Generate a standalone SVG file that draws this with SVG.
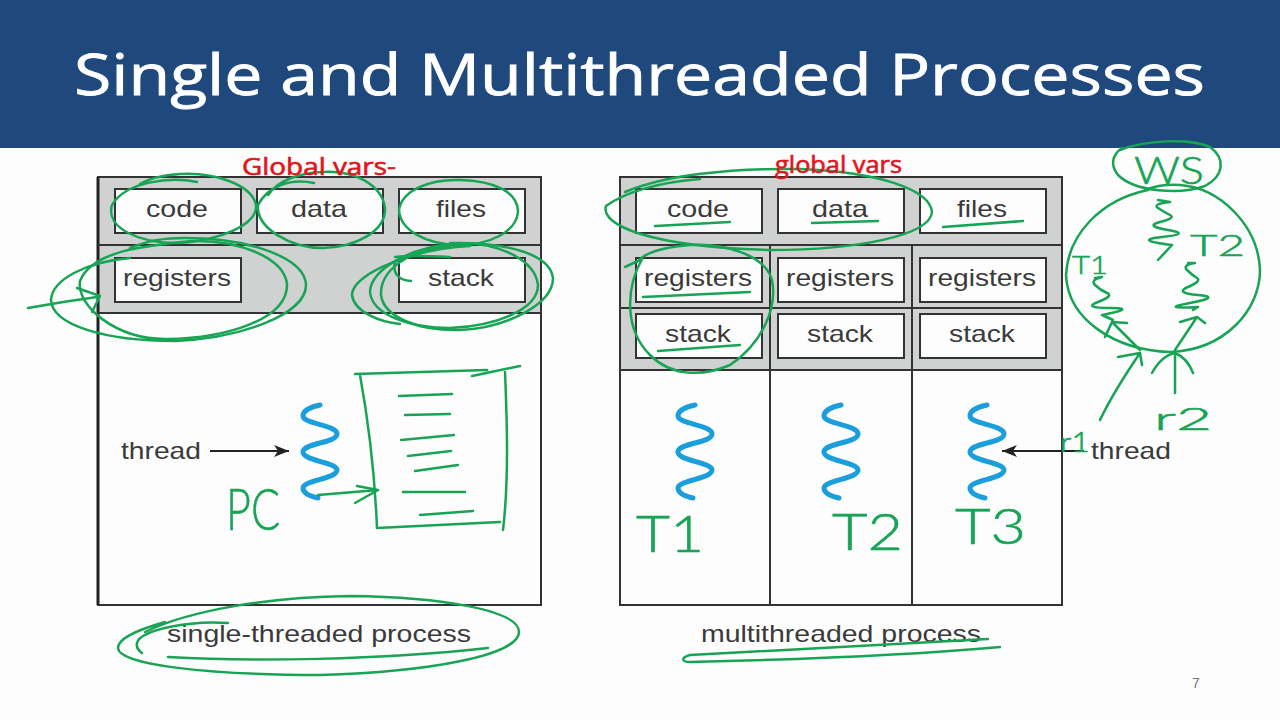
<svg xmlns="http://www.w3.org/2000/svg" width="1280" height="720" viewBox="0 0 1280 720">
<style>
.t{font-family:"Liberation Sans",Arial,sans-serif;font-size:24px;fill:#3a3a3a;text-anchor:start}
.box{fill:#fdfdfd;stroke:#333;stroke-width:2}
.band{fill:#d0d1d1}
.ln{stroke:#333;stroke-width:2;fill:none}
.ink{fill:none;stroke:#17a455;stroke-width:2.5;stroke-linecap:round;stroke-linejoin:round}
.hw{font-family:Lato,"Open Sans",sans-serif;font-weight:300;fill:#17a455;stroke:#17a455;stroke-width:.6}
.red{font-family:"Open Sans",sans-serif;font-size:23px;fill:#e2141c;stroke:#e2141c;stroke-width:.6}
.blue{fill:none;stroke:#1a9fdc;stroke-width:5;stroke-linecap:round}
.conn{stroke:#222;stroke-width:2;fill:none;marker-end:url(#ah)}
</style>
<defs>
<marker id="ah" markerWidth="16" markerHeight="12" refX="15" refY="6" orient="auto" markerUnits="userSpaceOnUse"><path d="M0,0 L15,6 L0,12 L4,6 Z" fill="#222"/></marker>
<path id="sq" class="blue" d="M18,0 C8,2 1,6 1,11 C1,19 35,20 35,29 C35,38 1,38 1,47 C1,56 35,57 35,65 C35,74 1,75 1,83 C1,88 7,91 16,93"/>
</defs>
<rect width="1280" height="720" fill="#fdfdfd"/>
<g id="title-bar">
<rect width="1280" height="148" fill="#1f497d"/>
<text x="74" y="95" font-family="'Open Sans',sans-serif" font-size="57" fill="#fff" stroke="#fff" stroke-width=".8" textLength="1131" lengthAdjust="spacingAndGlyphs">Single and Multithreaded Processes</text>
</g>

<g id="single-process">
<rect class="band" x="98" y="177" width="443" height="136"/>
<rect x="98" y="177" width="443" height="428" fill="none" stroke="#333" stroke-width="2"/>
<path d="M98 177V605" stroke="#222" stroke-width="3"/>
<path class="ln" d="M98 245H541M98 313H541"/>
</g>
<g id="s-code"><rect class="box" x="115" y="189" width="126" height="44"/><text class="t" x="146" y="217" textLength="62" lengthAdjust="spacingAndGlyphs">code</text></g>
<g id="s-data"><rect class="box" x="257" y="189" width="126" height="44"/><text class="t" x="291" y="217" textLength="56" lengthAdjust="spacingAndGlyphs">data</text></g>
<g id="s-files"><rect class="box" x="399" y="189" width="126" height="44"/><text class="t" x="436" y="217" textLength="50" lengthAdjust="spacingAndGlyphs">files</text></g>
<g id="s-registers"><rect class="box" x="115" y="258" width="126" height="44"/><text class="t" x="123" y="286" textLength="108" lengthAdjust="spacingAndGlyphs">registers</text></g>
<g id="s-stack"><rect class="box" x="399" y="258" width="126" height="44"/><text class="t" x="428" y="286" textLength="66" lengthAdjust="spacingAndGlyphs">stack</text></g>
<g id="s-thread"><use href="#sq" x="302" y="405"/></g>
<g id="s-thread-label"><text class="t" x="121" y="459" textLength="80" lengthAdjust="spacingAndGlyphs">thread</text></g>
<g id="s-caption"><text class="t" x="167" y="642" textLength="304" lengthAdjust="spacingAndGlyphs">single-threaded process</text></g>

<g id="multi-process">
<rect class="band" x="620" y="177" width="442" height="193"/>
<rect x="620" y="177" width="442" height="428" fill="none" stroke="#333" stroke-width="2"/>
<path class="ln" d="M620 245H1062M620 308H1062M620 370H1062M770 245V605M912 245V605"/>
</g>
<g id="m-code"><rect class="box" x="636" y="189" width="126" height="44"/><text class="t" x="667" y="217" textLength="62" lengthAdjust="spacingAndGlyphs">code</text></g>
<g id="m-data"><rect class="box" x="778" y="189" width="126" height="44"/><text class="t" x="812" y="217" textLength="56" lengthAdjust="spacingAndGlyphs">data</text></g>
<g id="m-files"><rect class="box" x="920" y="189" width="126" height="44"/><text class="t" x="957" y="217" textLength="50" lengthAdjust="spacingAndGlyphs">files</text></g>
<g id="m-reg1"><rect class="box" x="636" y="258" width="126" height="44"/><text class="t" x="644" y="286" textLength="108" lengthAdjust="spacingAndGlyphs">registers</text></g>
<g id="m-reg2"><rect class="box" x="778" y="258" width="126" height="44"/><text class="t" x="786" y="286" textLength="108" lengthAdjust="spacingAndGlyphs">registers</text></g>
<g id="m-reg3"><rect class="box" x="920" y="258" width="126" height="44"/><text class="t" x="928" y="286" textLength="108" lengthAdjust="spacingAndGlyphs">registers</text></g>
<g id="m-stack1"><rect class="box" x="636" y="314" width="126" height="44"/><text class="t" x="665" y="342" textLength="66" lengthAdjust="spacingAndGlyphs">stack</text></g>
<g id="m-stack2"><rect class="box" x="778" y="314" width="126" height="44"/><text class="t" x="807" y="342" textLength="66" lengthAdjust="spacingAndGlyphs">stack</text></g>
<g id="m-stack3"><rect class="box" x="920" y="314" width="126" height="44"/><text class="t" x="949" y="342" textLength="66" lengthAdjust="spacingAndGlyphs">stack</text></g>
<g id="m-thread1"><use href="#sq" x="677" y="405"/></g>
<g id="m-thread2"><use href="#sq" x="823" y="405"/></g>
<g id="m-thread3"><use href="#sq" x="969" y="405"/></g>
<g id="m-thread-label"><text class="t" x="1091" y="459" textLength="80" lengthAdjust="spacingAndGlyphs">thread</text></g>
<g id="m-caption"><text class="t" x="701" y="642" textLength="280" lengthAdjust="spacingAndGlyphs">multithreaded process</text></g>
<g id="page-number"><text x="1192" y="688" font-family="'Liberation Sans',sans-serif" font-size="14" fill="#777">7</text></g>

<g id="connectors">
<path class="conn" d="M210 451H289"/>
<path class="conn" d="M1084 451H1002"/>
</g>

<g id="ink-left">
<path class="ink" d="M197 182C170 176 125 182 112 205C105 228 140 244 180 243C220 240 258 225 256 205C252 185 215 172 180 174C165 175 150 178 140 184"/>
<path class="ink" d="M314 183C290 178 268 186 258 205C256 228 290 248 323 248C355 247 386 232 385 208C382 185 355 170 322 172C300 173 278 180 268 195"/>
<path class="ink" d="M399 210C402 190 430 179 460 180C495 181 518 192 518 212C516 232 490 245 458 245C425 244 400 230 399 210Z"/>
<path class="ink" d="M192 241C150 245 92 250 80 281C76 305 115 340 168 339C225 338 288 320 287 284C284 258 240 240 192 241"/>
<path class="ink" d="M130 258C85 262 52 280 51 300C52 325 105 341 175 341C240 338 306 315 306 285C305 258 250 238 185 238C165 238 150 240 130 248"/>
<path class="ink" d="M28 308C50 304 75 300 97 297M77 288L100 296L92 312"/>
<path class="ink" d="M470 246C420 248 352 272 352 295C354 312 380 322 400 324"/>
<path class="ink" d="M460 243C410 246 370 270 370 292C372 315 410 328 450 328C495 326 538 310 538 285C535 260 500 243 460 243"/>
<path class="ink" d="M450 246C405 250 380 272 381 295C384 318 420 331 460 330C505 328 553 305 553 278C550 255 510 242 450 243"/>
<path class="ink" d="M395 257C415 255 430 256 450 257M395 262C393 270 395 280 411 281"/>
</g>
<g id="ink-program">
<path class="ink" d="M355 374L487 370M472 376L520 366M360 375C370 430 375 480 377 528L500 522M505 372C507 420 509 480 503 530"/>
<path class="ink" d="M399 396L452 394M405 415L450 414M401 440L454 435M408 456L451 451M415 471L458 465M403 492L465 492M420 515L473 511"/>
<path class="ink" d="M318 495L378 490M357 486L378 490L355 503"/>
</g>
<g id="ink-right">
<path class="ink" d="M700 179C660 182 625 192 606 206C600 225 650 247 770 250C860 250 930 235 932 212C930 190 880 172 800 169C730 168 665 175 625 192"/>
<path class="ink" d="M625 267L642 259C625 290 625 330 650 355C670 375 700 378 730 365C760 345 778 310 772 280C765 255 725 243 690 245C665 247 645 252 637 262"/>
<path class="ink" d="M655 226L730 222M812 223L878 221M943 227L1023 221M643 297L750 292M658 351L740 345"/>
</g>
<g id="ink-captions">
<path class="ink" d="M145 632C190 610 270 597 350 596C440 597 519 610 519 632C519 655 430 672 320 675C210 675 118 665 118 648C118 640 130 632 165 622"/>
<path class="ink" d="M228 623C190 620 140 630 137 643C136 648 139 651 142 653M168 657C250 662 380 660 488 648"/>
<path class="ink" d="M988 639L690 655C680 658 682 662 690 662C780 660 900 656 1000 647"/>
</g>
<g id="ink-server">
<path class="ink" d="M1120 150C1145 140 1190 138 1210 147C1225 158 1225 175 1205 186C1180 195 1135 192 1118 175C1110 165 1112 155 1122 148"/>
<path class="ink" d="M1148 190C1100 200 1068 235 1066 275C1068 320 1115 350 1170 352C1225 350 1260 310 1260 270C1258 225 1220 188 1180 185C1165 184 1155 186 1145 190"/>
<path class="ink" d="M1158 200L1170 202Q1152 204 1158 208T1170 215T1160 222T1168 230T1162 237T1172 245L1158 260"/>
<path class="ink" d="M1188 263L1195 263Q1182 265 1187 270T1197 278T1188 287T1198 295T1190 303T1198 307L1193 310"/>
<path class="ink" d="M1095 278L1102 277Q1090 280 1095 285T1107 293T1098 302T1110 308T1102 315L1113 320"/>
<path class="ink" d="M1140 350L1112 322M1105 337L1112 322L1127 323"/>
<path class="ink" d="M1175 350L1197 317M1180 322L1197 317L1205 323"/>
<path class="ink" d="M1100 420C1112 395 1125 375 1140 353M1118 357L1140 353L1142 365"/>
<path class="ink" d="M1175 393V353M1152 373C1158 362 1165 355 1175 353C1185 357 1190 365 1193 373"/>
</g>
<g id="handwritten-labels">
<text class="red" x="242" y="175" textLength="154" lengthAdjust="spacingAndGlyphs">Global vars-</text>
<text class="red" x="775" y="173" textLength="127" lengthAdjust="spacingAndGlyphs">global vars</text>
<text class="hw" x="636" y="552" font-size="52" textLength="68" lengthAdjust="spacingAndGlyphs">T1</text>
<text class="hw" x="832" y="550" font-size="52" textLength="71" lengthAdjust="spacingAndGlyphs">T2</text>
<text class="hw" x="955" y="544" font-size="50" textLength="71" lengthAdjust="spacingAndGlyphs">T3</text>
<text class="hw" x="226" y="530" font-size="58" textLength="54" lengthAdjust="spacingAndGlyphs">PC</text>
<text class="hw" x="1134" y="184" font-size="38" textLength="70" lengthAdjust="spacingAndGlyphs">WS</text>
<text class="hw" x="1190" y="256" font-size="30" textLength="55" lengthAdjust="spacingAndGlyphs">T2</text>
<text class="hw" x="1072" y="274" font-size="26" textLength="36" lengthAdjust="spacingAndGlyphs">T1</text>
<text class="hw" x="1060" y="452" font-size="28" textLength="30" lengthAdjust="spacingAndGlyphs">r1</text>
<text class="hw" x="1154" y="430" font-size="32" textLength="58" lengthAdjust="spacingAndGlyphs">r2</text>
</g>
</svg>
